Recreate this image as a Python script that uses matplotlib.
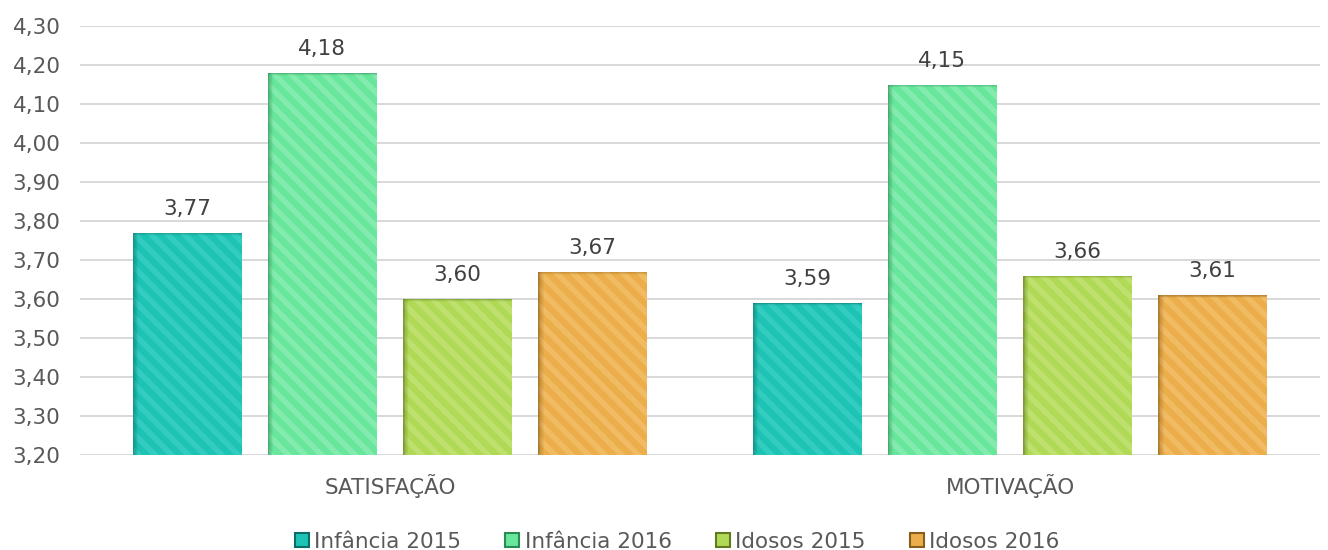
import numpy as np
import matplotlib
matplotlib.use("Agg")
from matplotlib import pyplot as plt
from matplotlib.patches import Patch

# Datos
categorias = ["SATISFAÇÃO", "MOTIVAÇÃO"]
series = ["Infância 2015", "Infância 2016", "Idosos 2015", "Idosos 2016"]
infancia_2015 = [3.77, 3.59]
infancia_2016 = [4.18, 4.15]
idosos_2015 = [3.60, 3.66]
idosos_2016 = [3.67, 3.61]
valores = [infancia_2015, infancia_2016, idosos_2015, idosos_2016]

cores = ["#1dc4b6", "#68e69c", "#b0da56", "#ebae4a"]
riscas = ["#33ccc0", "#82ebad", "#bfe06f", "#f0bb63"]
bordas = ["#0b6e66", "#2e8a55", "#5f7a20", "#8a5e1a"]

plt.rcParams["font.family"] = ["DejaVu Sans"]
plt.rcParams["hatch.linewidth"] = 4.0

fig = plt.figure(figsize=(13.28, 5.5), dpi=100)
ax = fig.add_axes([80 / 1328, 95 / 550, 1240 / 1328, 429 / 550])

x = np.arange(len(categorias))
largura = 0.176
passo = 0.218
base = 3.20
fs = 15.5

for i, (vals, cor) in enumerate(zip(valores, cores)):
    pos = x + (i - 1.5) * passo
    alturas = np.array(vals) - base
    ax.bar(pos, alturas, largura, bottom=base, color=cor, linewidth=0, zorder=2)
    # riscas diagonais
    ax.bar(pos, alturas, largura, bottom=base, fill=False, hatch="\\\\",
           edgecolor=riscas[i], linewidth=0, zorder=3)
    # sombra interior à esquerda e em cima
    n = 8
    for k in range(n):
        a = 0.65 * (1 - k / n) ** 1.5
        w = largura * 0.007
        ax.bar(pos - largura / 2 + (k + 0.5) * w, alturas, w, bottom=base,
               color=bordas[i], alpha=a, linewidth=0, zorder=4)
    for k in range(4):
        a = 0.5 * (1 - k / 4) ** 1.5
        h = 0.0018
        ax.bar(pos, h, largura, bottom=np.array(vals) - (k + 1) * h,
               color=bordas[i], alpha=a, linewidth=0, zorder=4)
    for p, v in zip(pos, vals):
        ax.text(p, v + 0.035, f"{v:.2f}".replace(".", ","), ha="center",
                va="bottom", fontsize=fs, color="#404040")

ax.set_xlim(-0.5, 1.5)
ax.set_ylim(3.20, 4.30)
ax.set_yticks(np.arange(3.20, 4.31, 0.10))
ax.set_yticklabels([f"{t:.2f}".replace(".", ",") for t in np.arange(3.20, 4.31, 0.10)])
ax.set_xticks(x)
ax.set_xticklabels(categorias)
ax.tick_params(axis="both", length=0, labelsize=fs, labelcolor="#595959")
ax.tick_params(axis="x", pad=14)
ax.tick_params(axis="y", pad=14)
ax.grid(axis="y", color="#d9d9d9", linewidth=1.44, zorder=0)
ax.set_axisbelow(True)
for s in ax.spines.values():
    s.set_visible(False)

handles = [Patch(facecolor=c, edgecolor=b, linewidth=1.5) for c, b in zip(cores, bordas)]
fig.legend(handles, series, loc="lower center", ncol=4, frameon=False,
           fontsize=fs, labelcolor="#595959", bbox_to_anchor=(0.51, -0.038),
           handlelength=0.65, handleheight=0.65, handletextpad=0.25, columnspacing=2.05)

fig.savefig("out.png", dpi=100)
